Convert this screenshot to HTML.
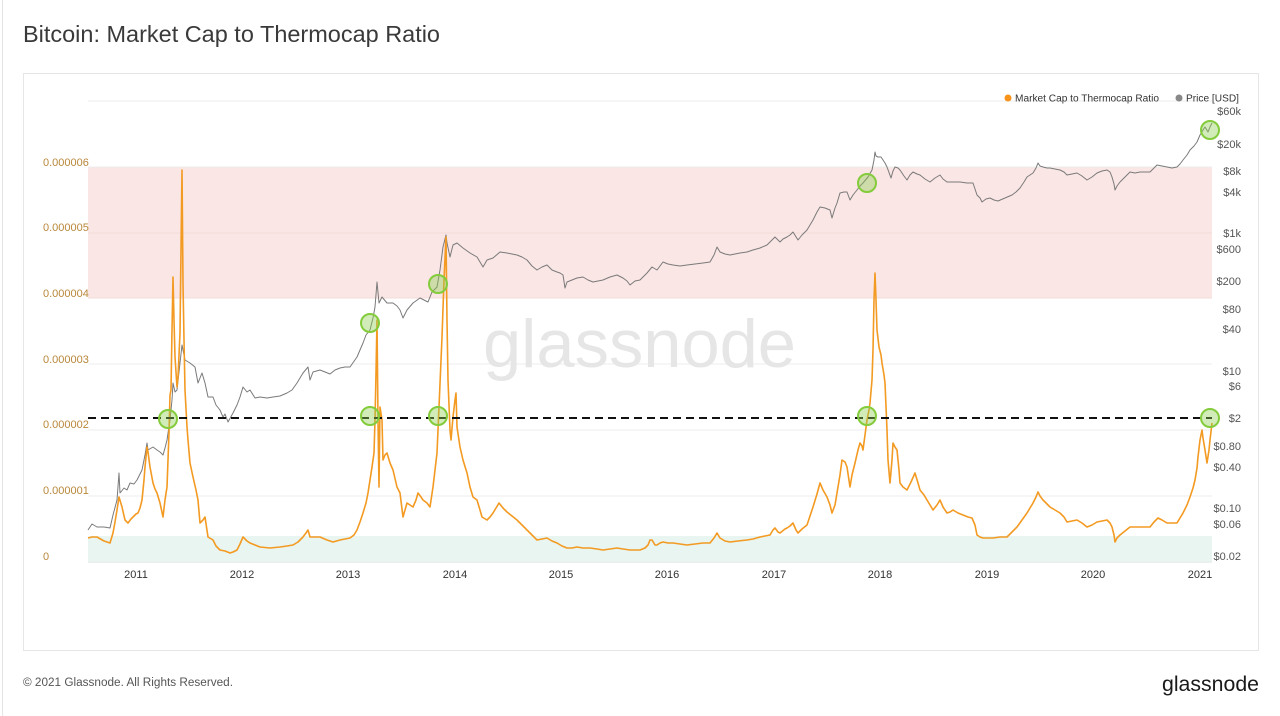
<!DOCTYPE html>
<html>
<head>
<meta charset="utf-8">
<style>
  html, body { margin: 0; padding: 0; background: #ffffff; }
  body { width: 1280px; height: 716px; overflow: hidden; font-family: "Liberation Sans", sans-serif; }
  svg { display: block; }
  text { font-family: "Liberation Sans", sans-serif; }
</style>
</head>
<body>
<svg width="1280" height="716" viewBox="0 0 1280 716" xmlns="http://www.w3.org/2000/svg">
  <rect x="0" y="0" width="1280" height="716" fill="#ffffff"/>
  <line x1="2.5" y1="0" x2="2.5" y2="716" stroke="#e4e4e4" stroke-width="1"/>

  <!-- Title -->
  <text x="23" y="42" font-size="23" fill="#3a3a3a" textLength="417" lengthAdjust="spacingAndGlyphs">Bitcoin: Market Cap to Thermocap Ratio</text>

  <!-- Card -->
  <rect x="23.5" y="73.5" width="1235" height="577" fill="#ffffff" stroke="#e6e6e6" stroke-width="1"/>

  <!-- Bands -->
  <rect x="88" y="167" width="1124" height="131" fill="#fae6e4"/>
  <rect x="88" y="536" width="1124" height="27" fill="#e9f5f0"/>

  <!-- Gridlines -->
  <g stroke="#ececec" stroke-width="1">
    <line x1="88" y1="101" x2="1212" y2="101"/>
    <line x1="88" y1="167" x2="1212" y2="167"/>
    <line x1="88" y1="233" x2="1212" y2="233" stroke="#f2dcda"/>
    <line x1="88" y1="298" x2="1212" y2="298" stroke="#f2dcda"/>
    <line x1="88" y1="364" x2="1212" y2="364"/>
    <line x1="88" y1="430" x2="1212" y2="430"/>
    <line x1="88" y1="496" x2="1212" y2="496"/>
    <line x1="88" y1="562" x2="1212" y2="562"/>
  </g>

  <!-- Watermark -->
  <text x="483" y="367" font-size="68" fill="#e6e6e6" textLength="313" lengthAdjust="spacingAndGlyphs">glassnode</text>

  <!-- Left axis labels -->
  <g font-size="11" fill="#b9873a">
    <text x="43" y="166">0.000006</text>
    <text x="43" y="231">0.000005</text>
    <text x="43" y="297">0.000004</text>
    <text x="43" y="363">0.000003</text>
    <text x="43" y="428">0.000002</text>
    <text x="43" y="494">0.000001</text>
    <text x="43" y="560">0</text>
  </g>

  <!-- Right axis labels -->
  <g font-size="11" fill="#555555" text-anchor="end">
    <text x="1241" y="115">$60k</text>
    <text x="1241" y="148">$20k</text>
    <text x="1241" y="175">$8k</text>
    <text x="1241" y="196">$4k</text>
    <text x="1241" y="237">$1k</text>
    <text x="1241" y="253">$600</text>
    <text x="1241" y="285">$200</text>
    <text x="1241" y="313">$80</text>
    <text x="1241" y="333">$40</text>
    <text x="1241" y="375">$10</text>
    <text x="1241" y="390">$6</text>
    <text x="1241" y="422">$2</text>
    <text x="1241" y="450">$0.80</text>
    <text x="1241" y="471">$0.40</text>
    <text x="1241" y="512">$0.10</text>
    <text x="1241" y="528">$0.06</text>
    <text x="1241" y="560">$0.02</text>
  </g>

  <!-- X axis labels -->
  <g font-size="11" fill="#333333" text-anchor="middle">
    <text x="136" y="578">2011</text>
    <text x="242" y="578">2012</text>
    <text x="348" y="578">2013</text>
    <text x="455" y="578">2014</text>
    <text x="561" y="578">2015</text>
    <text x="667" y="578">2016</text>
    <text x="774" y="578">2017</text>
    <text x="880" y="578">2018</text>
    <text x="987" y="578">2019</text>
    <text x="1093" y="578">2020</text>
    <text x="1200" y="578">2021</text>
  </g>

  <!-- Legend -->
  <circle cx="1008" cy="98" r="3.5" fill="#f7931a"/>
  <text x="1015" y="101.5" font-size="10" fill="#333333" textLength="144" lengthAdjust="spacingAndGlyphs">Market Cap to Thermocap Ratio</text>
  <circle cx="1179" cy="98" r="3.5" fill="#888888"/>
  <text x="1186" y="101.5" font-size="10" fill="#333333" textLength="53" lengthAdjust="spacingAndGlyphs">Price [USD]</text>

  <!-- Price series -->
  <polyline fill="none" stroke="#7a7a7a" stroke-width="1" stroke-linejoin="round" points="88,530 92,524 97,527 104,527 110,528 113,515 117,500 119,473 120,493 124,488 127,490 130,483 134,484 137,480 142,470 145,455 147,443 148,450 153,447 157,450 160,452 163,455 165,448 167,440 170,420 172,400 173,383 175,392 177,390 180,363 182,345 185,360 190,363 195,367 198,383 202,373 205,383 208,397 213,397 216,405 220,410 223,417 225,414 228,422 233,413 237,405 240,397 243,387 247,392 250,390 255,398 260,397 267,398 273,397 280,396 287,393 292,390 297,383 303,373 308,367 310,380 313,372 320,370 325,372 330,374 335,370 340,368 345,367 350,367 357,357 363,343 366,335 370,330 373,318 375,307 377,282 379,303 382,297 387,303 393,303 397,306 400,310 403,318 407,310 413,303 420,298 424,300 428,302 432,292 437,287 440,270 443,247 446,235 447,243 450,257 453,245 457,243 463,248 470,253 477,257 480,262 483,267 487,260 493,258 500,252 507,253 512,254 517,255 522,257 527,260 532,266 537,270 542,267 547,265 552,270 557,272 560,273 563,275 565,288 567,282 572,280 577,278 583,277 588,280 593,282 598,281 603,280 610,277 617,275 623,278 627,281 630,285 635,281 640,280 647,273 652,267 657,270 663,262 668,264 673,265 680,266 687,265 695,264 703,263 710,262 714,255 717,247 720,252 725,254 730,255 735,254 740,253 747,252 753,250 760,248 767,245 771,241 775,237 780,242 783,239 787,237 790,235 793,232 798,240 802,235 807,230 810,225 813,220 817,212 820,207 825,208 830,210 832,218 835,208 837,203 840,193 844,192 847,192 850,200 853,195 857,190 860,186 863,183 868,177 872,170 874,160 875,152 876,156 878,157 881,157 883,160 885,163 887,167 891,178 893,171 895,167 898,168 900,170 904,176 907,180 910,175 913,172 917,174 920,175 925,179 930,182 935,178 940,175 943,179 947,182 950,182 955,182 960,182 967,183 973,183 977,195 980,198 982,202 986,199 990,198 994,200 998,201 1005,198 1012,195 1016,192 1020,188 1024,182 1027,177 1030,175 1033,173 1036,168 1038,163 1040,166 1043,167 1047,168 1050,168 1055,169 1060,170 1064,172 1067,175 1072,174 1077,173 1082,176 1087,180 1092,177 1097,173 1102,171 1107,170 1110,172 1112,177 1114,184 1115,190 1117,186 1120,182 1125,177 1130,172 1135,173 1140,172 1145,172 1150,172 1154,168 1157,165 1162,166 1167,167 1172,168 1177,167 1180,164 1183,160 1187,155 1190,150 1194,146 1197,142 1200,135 1203,130 1205,127 1208,132 1210,127 1212,123"/>

  <!-- Ratio series -->
  <polyline fill="none" stroke="#f39a22" stroke-width="1.6" stroke-linejoin="round" points="88,538 92,537 97,537 104,541 110,543 113,533 115,522 117,510 119,497 122,507 125,520 128,523 131,519 133,517 136,514 138,513 140,508 142,500 144,480 145,467 147,447 148,452 150,467 153,483 155,489 157,493 160,503 163,517 165,500 167,487 169,433 170,395 171,390 172,330 173,277 174,320 175,357 177,387 178,377 180,333 181,250 182,170 183,283 184,340 185,390 187,427 188,440 190,463 193,477 196,490 198,500 200,523 203,520 205,517 208,537 213,540 216,546 220,550 225,551 230,553 233,552 237,550 240,544 243,537 247,541 250,543 255,545 260,547 270,548 280,547 287,546 293,545 298,542 303,537 306,533 308,530 310,537 315,537 320,537 327,540 333,542 340,540 350,538 354,535 357,530 360,522 363,513 366,503 368,493 370,480 372,467 374,453 375,420 376,373 377,320 378,420 379,487 380,407 382,420 383,460 385,455 387,453 390,463 393,470 397,487 400,493 403,517 405,510 407,503 410,505 413,507 416,500 418,493 421,497 423,500 427,503 430,507 433,487 435,470 437,453 439,407 442,337 444,280 446,237 447,320 448,380 450,430 451,440 453,417 455,400 456,393 457,427 460,447 463,460 467,473 470,487 473,497 477,500 480,510 482,517 487,520 490,517 493,513 496,508 499,503 503,508 507,512 512,516 517,520 522,525 527,530 532,535 537,540 542,539 547,538 552,541 557,543 562,546 567,548 572,548 577,547 583,548 590,548 597,549 603,550 610,549 617,548 623,549 630,550 635,550 640,550 645,548 648,545 650,540 652,540 655,545 657,545 660,543 663,542 668,543 673,543 680,544 687,545 695,544 703,543 710,543 714,538 717,533 720,538 725,541 730,542 738,541 747,540 753,539 760,537 765,536 770,535 773,530 775,528 778,532 780,533 785,529 787,528 790,526 793,523 796,530 798,533 802,529 807,525 810,516 813,507 817,494 820,483 823,490 827,497 830,505 832,513 835,505 837,493 840,475 842,460 845,462 847,467 850,487 852,475 855,463 858,450 860,443 862,446 863,450 865,435 867,420 869,410 870,403 872,380 873,350 874,300 875,273 876,300 877,330 879,347 881,355 882,363 884,375 885,383 887,430 888,460 890,483 892,460 893,443 895,447 897,450 899,470 900,483 903,487 907,490 911,482 915,473 918,483 920,490 924,495 927,500 930,505 933,510 937,505 940,500 943,507 947,513 950,512 953,510 958,513 963,515 968,517 972,518 975,525 977,535 980,537 983,538 988,538 993,538 1000,537 1007,537 1012,532 1017,527 1022,520 1027,513 1030,508 1033,503 1036,497 1038,492 1040,496 1043,500 1047,504 1050,507 1055,510 1060,513 1064,517 1067,522 1072,521 1077,520 1082,523 1087,527 1092,525 1097,522 1102,521 1107,520 1110,523 1112,527 1114,535 1115,542 1117,538 1120,535 1125,531 1130,527 1135,527 1140,527 1145,527 1150,527 1154,522 1158,518 1162,520 1167,523 1172,523 1177,523 1180,518 1183,513 1187,505 1190,497 1193,488 1195,480 1197,468 1198,457 1200,440 1202,430 1203,438 1205,450 1207,463 1209,450 1210,440 1212,423"/>

  <!-- Dashed threshold -->
  <line x1="88" y1="418" x2="1212" y2="418" stroke="#111111" stroke-width="2" stroke-dasharray="8 5"/>

  <!-- Highlight circles -->
  <g fill="rgba(140,205,80,0.4)" stroke="#84cc3c" stroke-width="2">
    <circle cx="168" cy="419" r="9"/>
    <circle cx="370" cy="323" r="9"/>
    <circle cx="370" cy="416" r="9"/>
    <circle cx="438" cy="284" r="9"/>
    <circle cx="438" cy="416" r="9"/>
    <circle cx="867" cy="183" r="9"/>
    <circle cx="867" cy="416" r="9"/>
    <circle cx="1210" cy="130" r="9"/>
    <circle cx="1210" cy="418" r="9"/>
  </g>

  <!-- Footer -->
  <text x="23" y="686" font-size="11.5" fill="#555555" textLength="210" lengthAdjust="spacingAndGlyphs">© 2021 Glassnode. All Rights Reserved.</text>
  <text x="1162" y="691" font-size="21" fill="#1a1a1a" textLength="97" lengthAdjust="spacingAndGlyphs">glassnode</text>
</svg>
</body>
</html>
